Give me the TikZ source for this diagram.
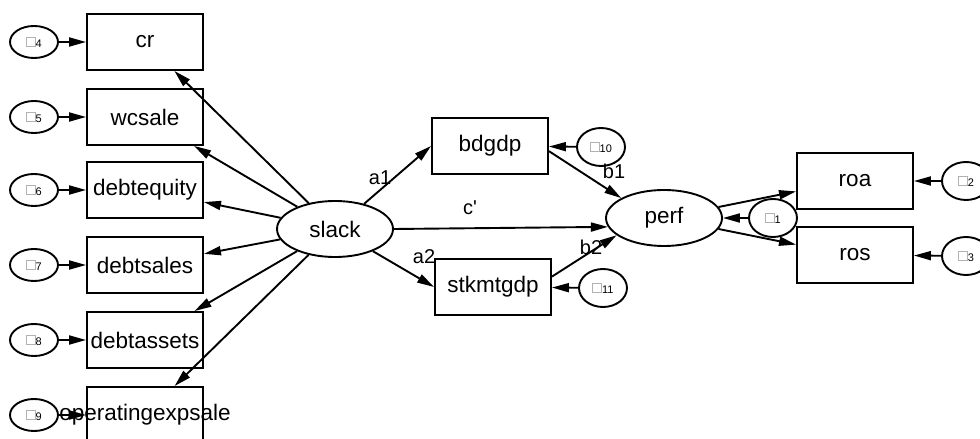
\documentclass[tikz,border=0pt]{standalone}
\usepackage{fontspec}
\setmainfont{Liberation Sans}
\usetikzlibrary{shapes.geometric, arrows.meta}

\tikzset{
  obs/.style = {draw, rectangle, inner sep=0pt, minimum width=116pt, minimum height=56pt,
                font=\fontsize{22.5}{25}\selectfont},
  lat/.style = {draw, ellipse, inner sep=0pt, minimum width=116pt, minimum height=56pt,
                font=\fontsize{22.5}{25}\selectfont},
  errl/.style = {draw, ellipse, inner sep=0pt, minimum width=48pt, minimum height=32pt},
  errr/.style = {draw, ellipse, inner sep=0pt, minimum width=48pt, minimum height=38pt},
  coef/.style = {font=\fontsize{20}{22}\selectfont, inner sep=0pt}
}

% residual label: empty glyph box plus index
\newcommand{\errlab}[1]{{\setlength{\fboxsep}{0pt}\setlength{\fboxrule}{0.8pt}%
  \color{gray!60}\framebox{\rule{0pt}{8pt}\hspace{8pt}}}%
  \raisebox{-1.5pt}{\fontsize{11}{11}\selectfont #1}}

\begin{document}
\begin{tikzpicture}[x=1pt, y=1pt, line width=1.9pt, >={Triangle[length=17pt, width=9pt]}]

\useasboundingbox (0,0) rectangle (980,439);

% indicators of slack
\node[obs] (cr)     at (145, 397) {cr};
\node[obs] (wcsale) at (145, 322) {wcsale};
\node[obs] (debteq) at (145, 249) {debtequity};
\node[obs] (debtsl) at (145, 174) {debtsales};
\node[obs] (debtas) at (145,  99) {debtassets};
\node[obs] (opexp)  at (145,  24) {\makebox[0pt]{operatingexpsale}};

\node[errl] (e4) at (34, 397) {\errlab{4}};
\node[errl] (e5) at (34, 322) {\errlab{5}};
\node[errl] (e6) at (34, 249) {\errlab{6}};
\node[errl] (e7) at (34, 174) {\errlab{7}};
\node[errl] (e8) at (34,  99) {\errlab{8}};
\node[errl] (e9) at (34,  24) {\errlab{9}};

% latent variables and mediators
\node[lat] (slack) at (335, 210) {slack};
\node[lat] (perf)  at (664, 221) {perf};
\node[obs] (bdgdp) at (490, 293) {bdgdp};
\node[obs] (stkmt) at (493, 152) {stkmtgdp};

\node[errr] (e10) at (601, 292) {\errlab{10}};
\node[errr] (e11) at (603, 151) {\errlab{11}};
\node[errr] (e1)  at (773, 221) {\errlab{1}};

% indicators of perf
\node[obs] (roa) at (855, 258) {roa};
\node[obs] (ros) at (855, 184) {ros};
\node[errr] (e2) at (966, 258) {\errlab{2}};
\node[errr] (e3) at (966, 183) {\errlab{3}};

% path labels
\node[coef] (la1) at (380, 261) {a1};
\node[coef] (la2) at (424, 182) {a2};
\node[coef] (lb1) at (614, 268) {b1};
\node[coef] (lb2) at (591, 192) {b2};
\node[coef] (lc)  at (470, 231) {c\textquotesingle};

% measurement part
\foreach \i/\v in {4/cr, 5/wcsale, 6/debteq, 7/debtsl, 8/debtas, 9/opexp}
  \draw[->] (e\i) -- (\v);
\foreach \v in {cr, wcsale, debteq, debtsl, debtas, opexp}
  \draw[->] (slack) -- (\v);

\draw[->] (slack) -- (bdgdp.west);
\draw[->] (slack) -- (stkmt.west);
\draw[->] (slack.east) -- (perf.189);
\draw[->] (bdgdp.-5) -- (perf.155);
\draw[->] (stkmt.10) -- (perf.200);

\draw[->] (e10) -- (bdgdp);
\draw[->] (e11) -- (stkmt);
\draw[->] (e1) -- (perf);

\draw[->] (perf) -- (roa.190);
\draw[->] (perf) -- (ros.170);
\draw[->] (e2) -- (roa);
\draw[->] (e3) -- (ros);

\end{tikzpicture}
\end{document}
